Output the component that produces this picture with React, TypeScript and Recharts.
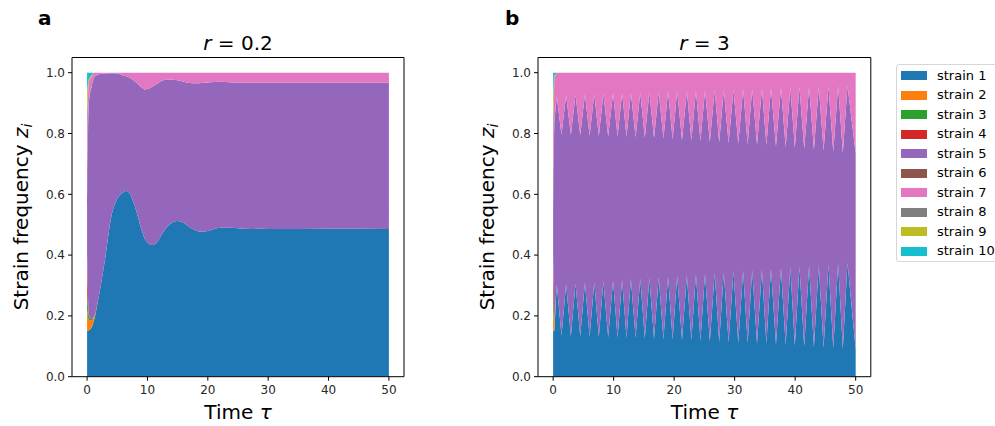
import React from 'react';
import { AreaChart, Area, XAxis, YAxis, ReferenceLine } from 'recharts';

const strainNames = ['strain 1', 'strain 2', 'strain 3', 'strain 4', 'strain 5', 'strain 6', 'strain 7', 'strain 8', 'strain 9', 'strain 10'];
const strainKeys = ['s1', 's2', 's3', 's4', 's5', 's6', 's7', 's8', 's9', 's10'];
const strainColors = ['#1f77b4', '#ff7f0e', '#2ca02c', '#d62728', '#9467bd', '#8c564b', '#e377c2', '#7f7f7f', '#bcbd22', '#17becf'];

const xTicks = [0, 10, 20, 30, 40, 50];
const yTicks = [0, 0.2, 0.4, 0.6, 0.8, 1.0];

// ---------- panel a : r = 0.2 ----------
const tA = [0, 0.3, 0.7, 1.2, 2, 3, 4, 5, 6, 6.5, 7, 8, 9, 9.6, 10, 10.7, 11.5, 12.5, 13.5, 15, 16, 17, 18, 19, 20, 22, 24, 26, 30, 40, 50];
const s1A = [0.15, 0.153, 0.16, 0.19, 0.27, 0.39, 0.525, 0.585, 0.607, 0.611, 0.604, 0.555, 0.485, 0.452, 0.442, 0.433, 0.44, 0.472, 0.498, 0.512, 0.506, 0.492, 0.481, 0.477, 0.479, 0.49, 0.49, 0.487, 0.486, 0.487, 0.486];
// upper edge of the strain 5 band
const topA = [0.55, 0.9, 0.95, 0.985, 0.995, 0.997, 0.998, 0.997, 0.99, 0.988, 0.984, 0.97, 0.952, 0.945, 0.946, 0.953, 0.962, 0.974, 0.978, 0.975, 0.97, 0.966, 0.965, 0.966, 0.968, 0.97, 0.968, 0.967, 0.967, 0.967, 0.967];
// minor strains: early values, zero afterwards
const minorA: Record<string, number[]> = {
  s2: [0.07, 0.035, 0.025, 0.01],
  s3: [0.06, 0.01, 0.005, 0],
  s4: [0.12, 0.005, 0, 0],
  s6: [0.1, 0.005, 0, 0],
  s8: [0.08, 0, 0, 0],
  s9: [0.08, 0.01, 0.005, 0],
  s10: [0.07, 0.02, 0.01, 0],
};

// ---------- panel b : r = 3 ----------
const tB = [0, 0.2,
  0.6, 1.38, 2.15, 2.93, 3.7, 4.48, 5.25, 6.03, 6.8, 7.55, 8.3, 9.1, 9.9, 10.65, 11.4, 12.13,
  12.85, 13.63, 14.4, 15.15, 15.9, 16.68, 17.45, 18.23, 19.0, 19.75, 20.5, 21.3, 22.1, 22.85,
  23.6, 24.35, 25.1, 25.9, 26.7, 27.45, 28.2, 29.0, 29.8, 30.6, 31.4, 32.15, 32.9, 33.7,
  34.5, 35.25, 36.0, 36.83, 37.65, 38.43, 39.2, 39.95, 40.7, 41.5, 42.3, 43.1, 43.9, 44.7,
  45.5, 46.3, 47.1, 47.88, 48.65, 50];
const s1B = [0.15, 0.15,
  0.305, 0.135, 0.303, 0.134, 0.306, 0.133, 0.309, 0.132, 0.311, 0.131, 0.313, 0.13, 0.316, 0.129, 0.318, 0.128,
  0.321, 0.127, 0.323, 0.126, 0.325, 0.125, 0.327, 0.123, 0.329, 0.122, 0.332, 0.121, 0.334, 0.12,
  0.336, 0.118, 0.339, 0.117, 0.341, 0.115, 0.343, 0.114, 0.346, 0.112, 0.348, 0.111, 0.35, 0.109,
  0.352, 0.108, 0.355, 0.106, 0.357, 0.104, 0.359, 0.102, 0.362, 0.1, 0.364, 0.098, 0.366, 0.096,
  0.369, 0.094, 0.372, 0.092, 0.375, 0.09];
// upper edge of the strain 5 band
const topB = [0.55, 0.84,
  0.922, 0.796, 0.927, 0.795, 0.928, 0.794, 0.929, 0.793, 0.93, 0.792, 0.931, 0.791, 0.932, 0.79, 0.933, 0.789,
  0.934, 0.788, 0.935, 0.786, 0.936, 0.785, 0.937, 0.783, 0.938, 0.781, 0.939, 0.779, 0.94, 0.777,
  0.941, 0.775, 0.942, 0.773, 0.943, 0.771, 0.944, 0.769, 0.945, 0.767, 0.946, 0.765, 0.947, 0.763,
  0.948, 0.761, 0.949, 0.758, 0.95, 0.756, 0.951, 0.753, 0.952, 0.75, 0.953, 0.747, 0.954, 0.744,
  0.955, 0.741, 0.956, 0.737, 0.957, 0.735];
const minorB: Record<string, number[]> = {
  s2: [0.07, 0.02],
  s3: [0.06, 0.005],
  s4: [0.12, 0.005],
  s6: [0.1, 0.005],
  s8: [0.08, 0],
  s9: [0.08, 0.005],
  s10: [0.07, 0.01],
};

function buildTable(t: number[], s1: number[], top: number[], minor: Record<string, number[]>) {
  return t.map((time, i) => {
    const m = (k: string) => (minor[k][i] !== undefined ? minor[k][i] : 0);
    const below = m('s2') + m('s3') + m('s4');
    const above = m('s6') + m('s8') + m('s9') + m('s10');
    return {
      t: time,
      s1: s1[i],
      s2: m('s2'),
      s3: m('s3'),
      s4: m('s4'),
      s5: Math.max(0, top[i] - s1[i] - below),
      s6: m('s6'),
      s7: Math.max(0, 1 - top[i] - above),
      s8: m('s8'),
      s9: m('s9'),
      s10: m('s10'),
    };
  });
}

const dataA = buildTable(tA, s1A, topA, minorA);
const dataB = buildTable(tB, s1B, topB, minorB);

const FONT = '"DejaVu Sans", sans-serif';

function Panel({ data, left, marginLeft, marginRight, curve }: { data: any[]; left: number; marginLeft: number; marginRight: number; curve: 'monotone' | 'linear' }) {
  return (
    <div style={{ position: 'absolute', left, top: 0 }}>
      <AreaChart width={410} height={426} data={data} margin={{ top: 57.5, right: marginRight, bottom: 19.3, left: marginLeft }}>
        <XAxis dataKey="t" type="number" domain={[-2.5, 52.5]} ticks={xTicks} allowDataOverflow interval={0}
          tickSize={4} tickMargin={5} height={30} stroke="#000" tickLine={{ stroke: '#000' }}
          tick={{ fill: '#262626', fontSize: 12, fontFamily: FONT }} />
        <YAxis type="number" domain={[0, 1.05]} ticks={yTicks} allowDataOverflow interval={0}
          tickFormatter={(v: number) => v.toFixed(1)} width={50} tickSize={4} tickMargin={3} stroke="#000"
          tickLine={{ stroke: '#000' }} tick={{ fill: '#262626', fontSize: 12, fontFamily: FONT }} />
        {strainKeys.map((k, i) => (
          <Area key={k} dataKey={k} name={strainNames[i]} stackId="1" type={curve} fill={strainColors[i]} fillOpacity={1}
            stroke="none" isAnimationActive={false} dot={false} activeDot={false} />
        ))}
        <ReferenceLine y={1.05} stroke="#000" strokeWidth={1} ifOverflow="visible" />
        <ReferenceLine x={52.5} stroke="#000" strokeWidth={1} ifOverflow="visible" />
      </AreaChart>
    </div>
  );
}

function YLabel({ x, y }: { x: number; y: number }) {
  return (
    <text x={x} y={y} transform={`rotate(-90 ${x} ${y})`} textAnchor="middle" fontSize={20} fontFamily={FONT} fill="#000">
      Strain frequency <tspan fontStyle="italic">z</tspan><tspan fontSize={14} fontStyle="italic" dy={4}>i</tspan>
    </text>
  );
}

export default function App() {
  return (
    <div style={{ position: 'absolute', left: 0, top: 0, width: 995, height: 426, background: '#fff', fontFamily: FONT, overflow: 'hidden' }}>
      <Panel data={dataA} left={0} marginLeft={22} marginRight={6} curve="monotone" />
      <Panel data={dataB} left={470} marginLeft={18} marginRight={9.2} curve="linear" />
      <svg width={995} height={426} style={{ position: 'absolute', left: 0, top: 0, pointerEvents: 'none' }}>
        <text x={38} y={25} fontSize={20} fontWeight="bold" fontFamily={FONT} fill="#000">a</text>
        <text x={505} y={25} fontSize={20} fontWeight="bold" fontFamily={FONT} fill="#000">b</text>
        <text x={238} y={50} textAnchor="middle" fontSize={20} fontFamily={FONT} fill="#000">
          <tspan fontStyle="italic">r</tspan> = 0.2
        </text>
        <text x={704.5} y={50} textAnchor="middle" fontSize={20} fontFamily={FONT} fill="#000">
          <tspan fontStyle="italic">r</tspan> = 3
        </text>
        <text x={238} y={419} textAnchor="middle" fontSize={20} fontFamily={FONT} fill="#000">
          Time <tspan fontStyle="italic">τ</tspan>
        </text>
        <text x={704.5} y={419} textAnchor="middle" fontSize={20} fontFamily={FONT} fill="#000">
          Time <tspan fontStyle="italic">τ</tspan>
        </text>
        <YLabel x={28} y={217} />
        <YLabel x={494} y={217} />
      </svg>
      <div style={{ position: 'absolute', left: 896, top: 64, width: 110, height: 198, border: '1px solid #d6d6d6', borderRadius: 3, background: '#fff', boxSizing: 'border-box' }}>
        {strainNames.map((n, i) => (
          <div key={n} style={{ position: 'absolute', left: 0, top: 1.5 + i * 19.5, height: 18, width: 110 }}>
            <div style={{ position: 'absolute', left: 4, top: 4.5, width: 26, height: 9, background: strainColors[i] }} />
            <div style={{ position: 'absolute', left: 40, top: 0, fontSize: 13, lineHeight: '18px', color: '#000', whiteSpace: 'nowrap' }}>{n}</div>
          </div>
        ))}
      </div>
    </div>
  );
}
